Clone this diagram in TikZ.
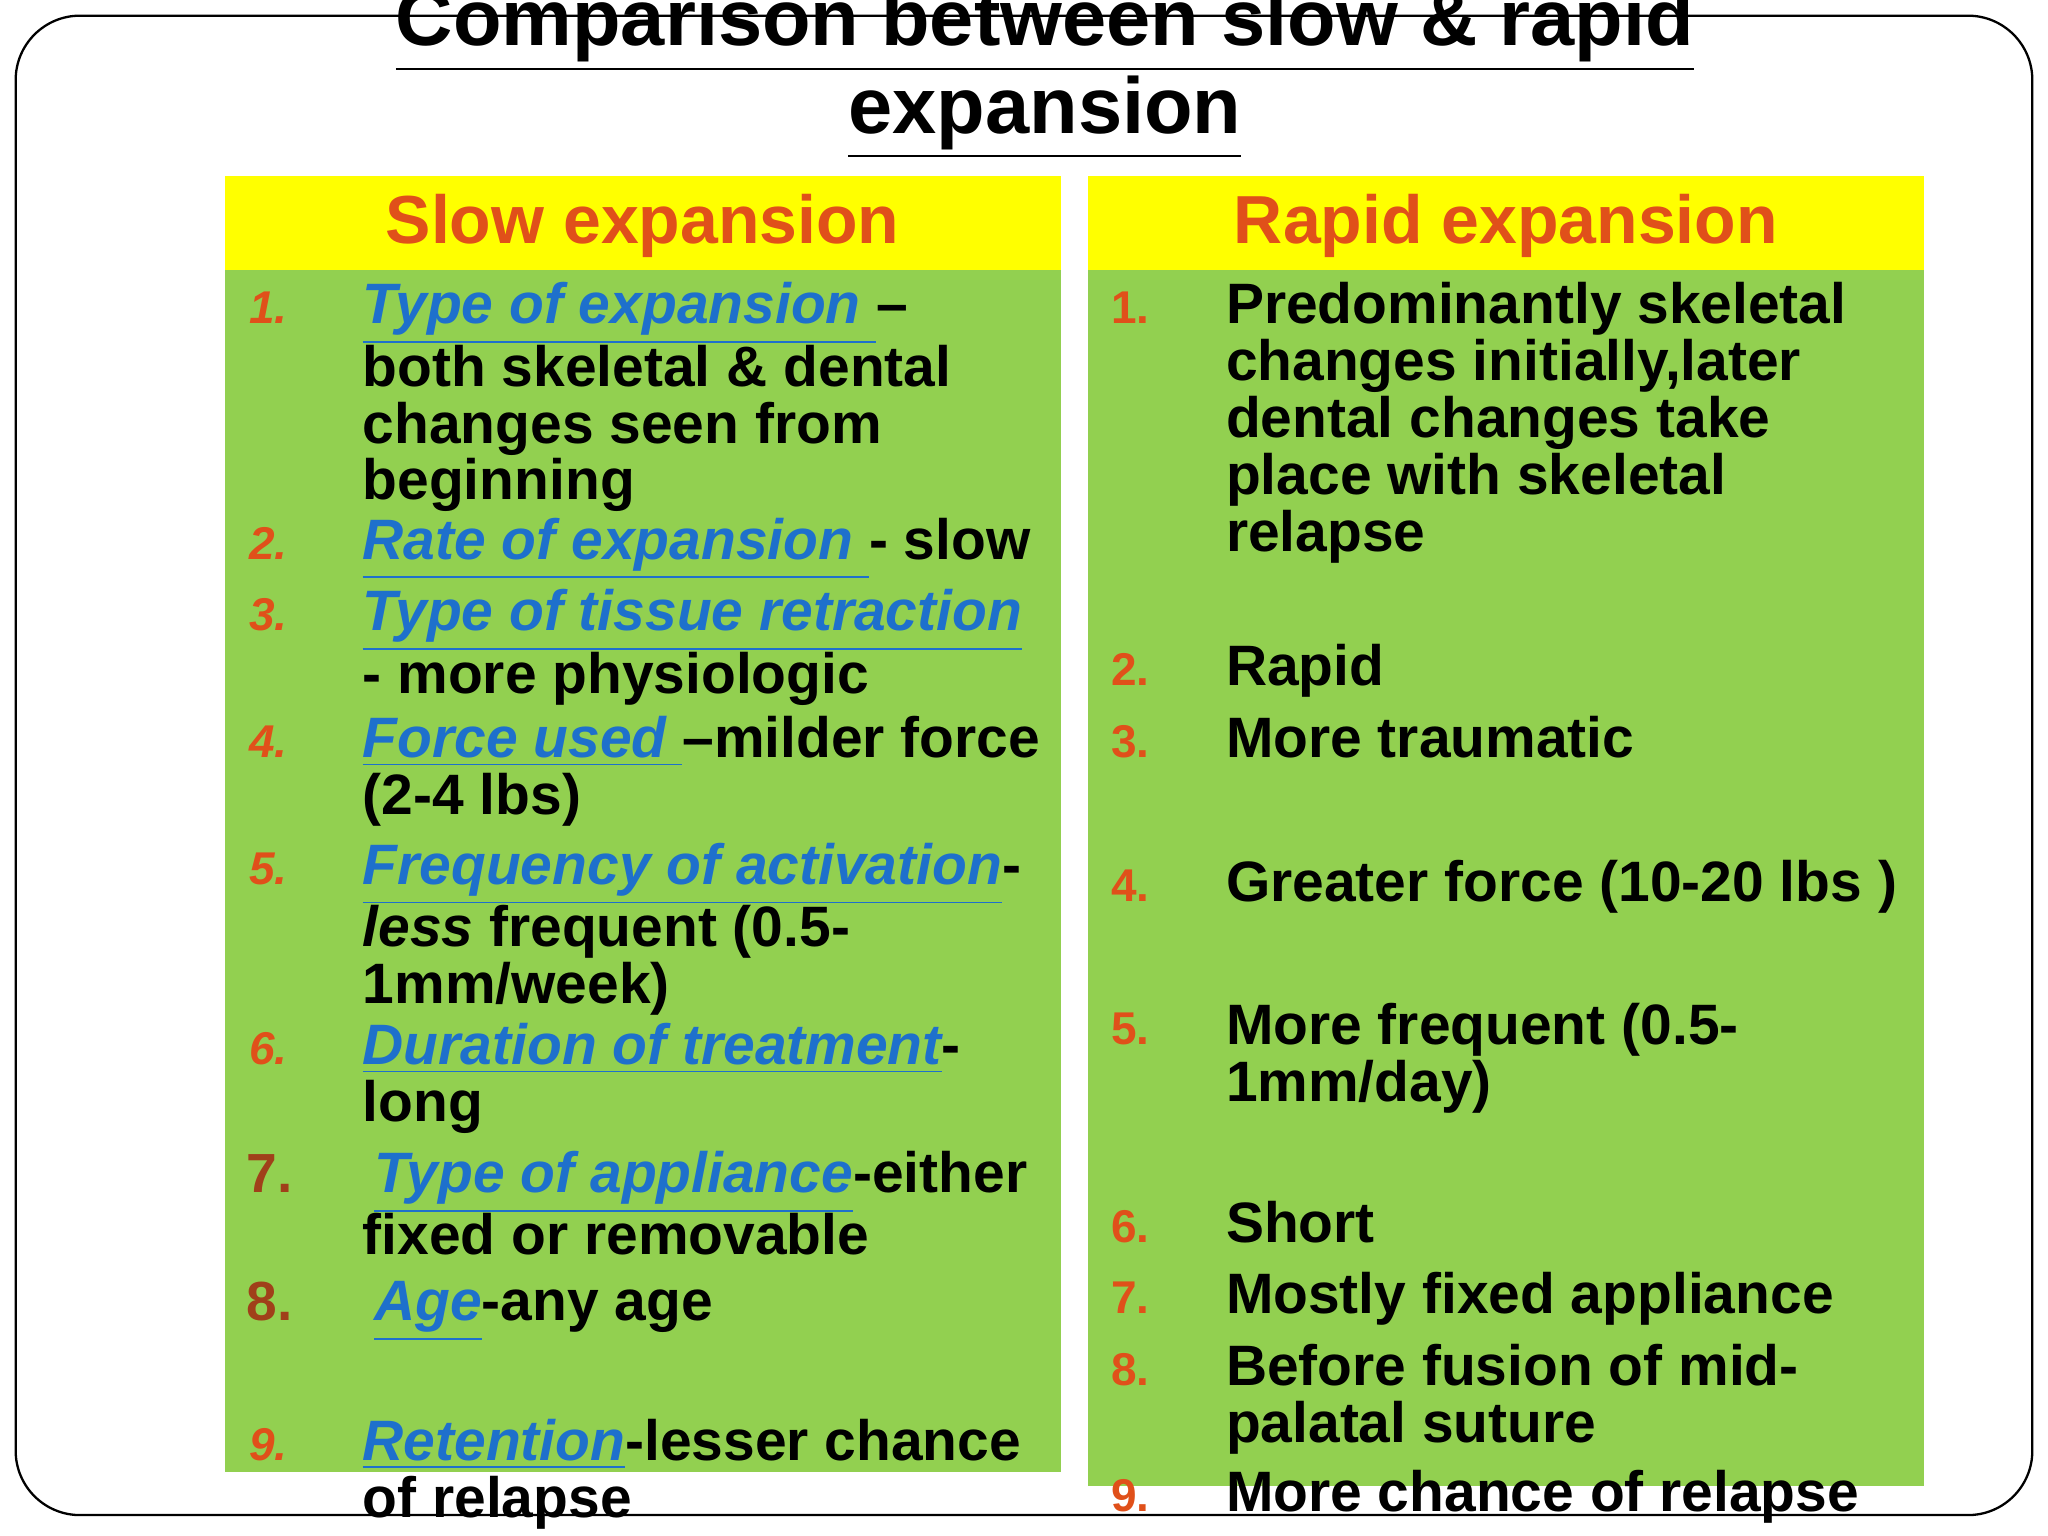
\documentclass[tikz,border=0pt]{standalone}
\usepackage{fontspec}
\setmainfont{Liberation Sans}
\newcommand{\ml}[1]{\begin{tabular}[t]{@{}l@{}}#1\end{tabular}}
\begin{document}
\begin{tikzpicture}[x=0.01cm,y=-0.01cm,
  txt/.style={anchor=base west,inner sep=0,font=\fontsize{12.4}{11.3}\bfseries},
  num/.style={anchor=base west,inner sep=0,font=\fontsize{10}{11}\bfseries\itshape,text=numc},
  rnum/.style={anchor=base west,inner sep=0,font=\fontsize{10}{11}\bfseries,text=numc},
  bnum/.style={anchor=base west,inner sep=0,font=\fontsize{12}{12}\bfseries,text=brn},
  hdr/.style={font=\fontsize{14.8}{16}\bfseries,text=numc}]
\definecolor{grn}{HTML}{92D050}
\definecolor{yel}{HTML}{FFFF00}
\definecolor{numc}{HTML}{E0501A}
\definecolor{brn}{HTML}{A0401A}
\definecolor{lnk}{HTML}{1E70CC}
\newcommand{\lk}[1]{\textcolor{lnk}{\underline{\itshape #1}}}
\useasboundingbox (0,0) rectangle (1568,1176);
\draw[line width=0.5pt,rounded corners=14pt] (12,12) rectangle (1556,1160);
\node[font=\fontsize{17.3}{20}\bfseries,align=center,anchor=base] (title) at (800,102) {\underline{Comparison between slow \& rapid}\\[-1pt]\underline{expansion}};
\fill[grn] (172,135) rectangle (812,1127);
\fill[yel] (172,135) rectangle (812,207);
\fill[grn] (833,135) rectangle (1473,1138);
\fill[yel] (833,135) rectangle (1473,207);
\node[hdr] (hl) at (492,173) {Slow expansion};
\node[hdr] (hr) at (1153,173) {Rapid expansion};
% left
\node[num] (l1n) at (190,248) {1.};
\node[txt] (l1) at (277,248) {\ml{\lk{Type of expansion }–\\both skeletal \& dental\\changes seen from\\beginning}};
\node[num] (l2n) at (190,428) {2.};
\node[txt] (l2) at (277,428) {\lk{Rate of expansion }- slow};
\node[num] (l3n) at (190,483) {3.};
\node[txt] (l3) at (277,483) {\ml{\lk{Type of tissue retraction}\\- more physiologic}};
\node[num] (l4n) at (190,580) {4.};
\node[txt] (l4) at (277,580) {\ml{\lk{Force used }–milder force\\(2-4 lbs)}};
\node[num] (l5n) at (190,677) {5.};
\node[txt] (l5) at (277,677) {\ml{\lk{Frequency of activation}-\\\textit{less} frequent (0.5-\\1mm/week)}};
\node[num] (l6n) at (190,815) {6.};
\node[txt] (l6) at (277,815) {\ml{\lk{Duration of treatment}-\\long}};
\node[bnum] (l7n) at (188,913) {7.};
\node[txt] (l7) at (277,913) {\ml{\hspace{2.5pt}\lk{Type of appliance}-either\\fixed or removable}};
\node[bnum] (l8n) at (188,1011) {8.};
\node[txt] (l8) at (277,1011) {\hspace{2.5pt}\lk{Age}-any age};
\node[num] (l9n) at (190,1118) {9.};
\node[txt] (l9) at (277,1118) {\ml{\lk{Retention}-lesser chance\\of relapse}};
% right
\node[rnum] (r1n) at (850,248) {1.};
\node[txt] (r1) at (938,248) {\ml{Predominantly skeletal\\changes initially,later\\dental changes take\\place with skeletal\\relapse}};
\node[rnum] (r2n) at (850,525) {2.};
\node[txt] (r2) at (938,525) {Rapid};
\node[rnum] (r3n) at (850,580) {3.};
\node[txt] (r3) at (938,580) {More traumatic};
\node[rnum] (r4n) at (850,690) {4.};
\node[txt] (r4) at (938,690) {Greater force (10-20 lbs )};
\node[rnum] (r5n) at (850,800) {5.};
\node[txt] (r5) at (938,800) {\ml{More frequent (0.5-\\1mm/day)}};
\node[rnum] (r6n) at (850,951) {6.};
\node[txt] (r6) at (938,951) {Short};
\node[rnum] (r7n) at (850,1006) {7.};
\node[txt] (r7) at (938,1006) {Mostly fixed appliance};
\node[rnum] (r8n) at (850,1061) {8.};
\node[txt] (r8) at (938,1061) {\ml{Before fusion of mid-\\palatal suture}};
\node[rnum] (r9n) at (850,1157) {9.};
\node[txt] (r9) at (938,1157) {More chance of relapse};
\end{tikzpicture}
\end{document}
